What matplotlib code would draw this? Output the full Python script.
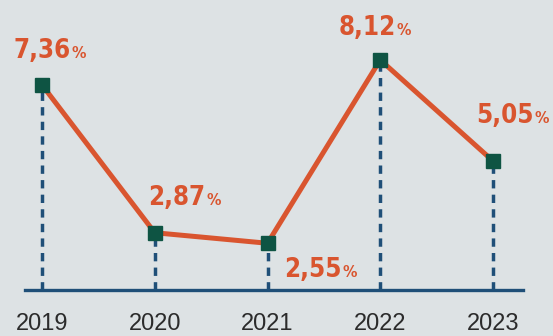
import matplotlib
matplotlib.use("Agg")
import matplotlib.pyplot as plt

# data
years = ["2019", "2020", "2021", "2022", "2023"]
values = [7.36, 2.87, 2.55, 8.12, 5.05]
labels = ["7,36", "2,87", "2,55", "8,12", "5,05"]
# label offsets from each point, in pixels (dx, dy up)
label_offsets = [(29, 27), (51, 28), (74, -34), (16, 25), (41, 38)]

BG = "#dde2e4"
LINE = "#d9552f"
MARK = "#0e5443"
AXIS = "#1f4f78"

fig = plt.figure(figsize=(5.53, 3.36), dpi=100, facecolor=BG)
ax = fig.add_axes([0, 46 / 336, 1, 290 / 336])
ax.set_facecolor(BG)

x = list(range(len(years)))
ax.vlines(x, 1.13, values, colors=AXIS, linestyles=(0, (2.4, 1.8)), linewidth=2.5, zorder=1)
ax.plot(x, values, color=LINE, linewidth=3.6, zorder=2)
ax.plot(x, values, linestyle="none", marker="s", markersize=9.5, color=MARK, zorder=3)

px = 72 / fig.dpi
for xi, v, lab, (dx, dy) in zip(x, values, labels, label_offsets):
    ax.annotate(lab, (xi, v), xytext=(dx * px, dy * px), textcoords="offset points",
                ha="right", va="baseline", color=LINE, fontsize=18.5, fontweight="bold",
                fontstretch="condensed", family="DejaVu Sans", zorder=4)
    ax.annotate("%", (xi, v), xytext=(dx * px + 0.5, dy * px), textcoords="offset points",
                ha="left", va="baseline", color=LINE, fontsize=11.5, fontweight="bold",
                fontstretch="condensed", family="DejaVu Sans", zorder=4)

ax.set_xlim(-42 / 112.75, 4 + 60 / 112.75)
ax.set_ylim(1.13, 9.94)
ax.set_xticks(x)
ax.set_xticklabels(years, fontsize=17, color="#2b2b2b", family="Liberation Sans")
ax.tick_params(axis="x", length=0, pad=16.5)
ax.set_yticks([])
for s in ["top", "left", "right"]:
    ax.spines[s].set_visible(False)
ax.spines["bottom"].set_color(AXIS)
ax.spines["bottom"].set_linewidth(2.4)
ax.spines["bottom"].set_bounds(-17 / 112.75, 4 + 30 / 112.75)

fig.savefig("out.png", dpi=100, facecolor=BG)
